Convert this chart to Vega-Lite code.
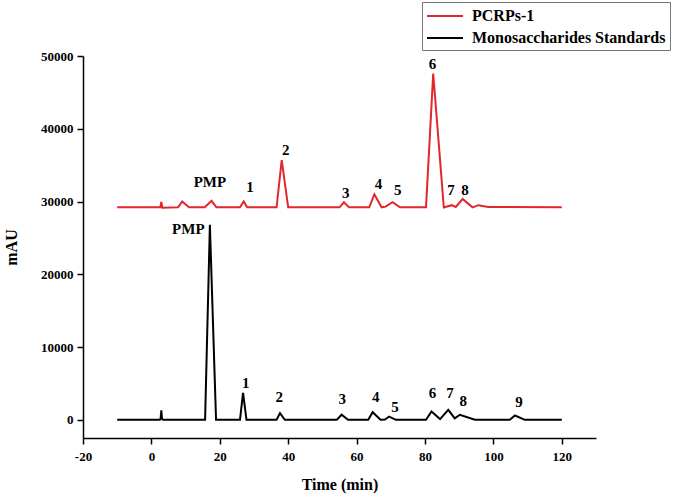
{
  "$schema": "https://vega.github.io/schema/vega-lite/v6.json",
  "autosize": "none",
  "width": 513,
  "height": 382,
  "padding": {"left": 83, "top": 56, "right": 89, "bottom": 61},
  "background": "white",
  "config": {
    "view": {"stroke": null},
    "font": "Liberation Serif",
    "axis": {
      "domainColor": "#000",
      "domainWidth": 1.5,
      "tickColor": "#000",
      "tickWidth": 1.5,
      "grid": false,
      "labelFont": "Liberation Serif",
      "labelFontWeight": "bold",
      "labelFontSize": 13,
      "labelColor": "#000",
      "titleFont": "Liberation Serif",
      "titleFontWeight": "bold",
      "titleFontSize": 16,
      "titleColor": "#000"
    }
  },
  "datasets": {
    "trace": [
      {"t": -10, "v": 29200, "s": "PCRPs-1"},
      {"t": 2.6, "v": 29200, "s": "PCRPs-1"},
      {"t": 2.9, "v": 29950, "s": "PCRPs-1"},
      {"t": 3.2, "v": 29150, "s": "PCRPs-1"},
      {"t": 7.8, "v": 29200, "s": "PCRPs-1"},
      {"t": 9.0, "v": 30000, "s": "PCRPs-1"},
      {"t": 11.0, "v": 29200, "s": "PCRPs-1"},
      {"t": 15.6, "v": 29200, "s": "PCRPs-1"},
      {"t": 17.6, "v": 30100, "s": "PCRPs-1"},
      {"t": 19.0, "v": 29200, "s": "PCRPs-1"},
      {"t": 25.9, "v": 29200, "s": "PCRPs-1"},
      {"t": 27.0, "v": 30000, "s": "PCRPs-1"},
      {"t": 28.0, "v": 29200, "s": "PCRPs-1"},
      {"t": 36.6, "v": 29200, "s": "PCRPs-1"},
      {"t": 38.1, "v": 35700, "s": "PCRPs-1"},
      {"t": 40.0, "v": 29200, "s": "PCRPs-1"},
      {"t": 55.0, "v": 29200, "s": "PCRPs-1"},
      {"t": 56.3, "v": 29900, "s": "PCRPs-1"},
      {"t": 57.8, "v": 29200, "s": "PCRPs-1"},
      {"t": 63.7, "v": 29200, "s": "PCRPs-1"},
      {"t": 65.2, "v": 31000, "s": "PCRPs-1"},
      {"t": 67.3, "v": 29200, "s": "PCRPs-1"},
      {"t": 68.5, "v": 29300, "s": "PCRPs-1"},
      {"t": 70.5, "v": 29900, "s": "PCRPs-1"},
      {"t": 72.7, "v": 29200, "s": "PCRPs-1"},
      {"t": 80.3, "v": 29200, "s": "PCRPs-1"},
      {"t": 82.4, "v": 47600, "s": "PCRPs-1"},
      {"t": 85.5, "v": 29200, "s": "PCRPs-1"},
      {"t": 87.8, "v": 29500, "s": "PCRPs-1"},
      {"t": 89.0, "v": 29250, "s": "PCRPs-1"},
      {"t": 91.0, "v": 30350, "s": "PCRPs-1"},
      {"t": 93.9, "v": 29200, "s": "PCRPs-1"},
      {"t": 95.6, "v": 29500, "s": "PCRPs-1"},
      {"t": 98.5, "v": 29250, "s": "PCRPs-1"},
      {"t": 120, "v": 29200, "s": "PCRPs-1"},
      {"t": -10, "v": 0, "s": "Monosaccharides Standards"},
      {"t": 2.5, "v": 0, "s": "Monosaccharides Standards"},
      {"t": 2.7, "v": 200, "s": "Monosaccharides Standards"},
      {"t": 2.9, "v": 1300, "s": "Monosaccharides Standards"},
      {"t": 3.1, "v": 150, "s": "Monosaccharides Standards"},
      {"t": 3.4, "v": 0, "s": "Monosaccharides Standards"},
      {"t": 15.7, "v": 0, "s": "Monosaccharides Standards"},
      {"t": 17.1, "v": 26800, "s": "Monosaccharides Standards"},
      {"t": 18.9, "v": 0, "s": "Monosaccharides Standards"},
      {"t": 25.9, "v": 0, "s": "Monosaccharides Standards"},
      {"t": 26.8, "v": 3700, "s": "Monosaccharides Standards"},
      {"t": 27.8, "v": 0, "s": "Monosaccharides Standards"},
      {"t": 36.6, "v": 0, "s": "Monosaccharides Standards"},
      {"t": 37.6, "v": 920, "s": "Monosaccharides Standards"},
      {"t": 39.0, "v": 0, "s": "Monosaccharides Standards"},
      {"t": 54.2, "v": 0, "s": "Monosaccharides Standards"},
      {"t": 55.6, "v": 700, "s": "Monosaccharides Standards"},
      {"t": 57.5, "v": 0, "s": "Monosaccharides Standards"},
      {"t": 63.4, "v": 0, "s": "Monosaccharides Standards"},
      {"t": 64.7, "v": 1050, "s": "Monosaccharides Standards"},
      {"t": 67.0, "v": 0, "s": "Monosaccharides Standards"},
      {"t": 68.3, "v": 50, "s": "Monosaccharides Standards"},
      {"t": 69.5, "v": 450, "s": "Monosaccharides Standards"},
      {"t": 71.5, "v": 0, "s": "Monosaccharides Standards"},
      {"t": 80.3, "v": 0, "s": "Monosaccharides Standards"},
      {"t": 81.9, "v": 1140, "s": "Monosaccharides Standards"},
      {"t": 84.4, "v": 100, "s": "Monosaccharides Standards"},
      {"t": 86.8, "v": 1370, "s": "Monosaccharides Standards"},
      {"t": 88.7, "v": 190, "s": "Monosaccharides Standards"},
      {"t": 90.2, "v": 690, "s": "Monosaccharides Standards"},
      {"t": 94.6, "v": 0, "s": "Monosaccharides Standards"},
      {"t": 104.8, "v": 0, "s": "Monosaccharides Standards"},
      {"t": 106.3, "v": 590, "s": "Monosaccharides Standards"},
      {"t": 109.2, "v": 0, "s": "Monosaccharides Standards"},
      {"t": 120, "v": 0, "s": "Monosaccharides Standards"}
    ],
    "labels": [
      {"t": 17.1, "v": 32700, "label": "PMP"},
      {"t": 28.8, "v": 31950, "label": "1"},
      {"t": 39.3, "v": 37050, "label": "2"},
      {"t": 56.8, "v": 31110, "label": "3"},
      {"t": 66.4, "v": 32390, "label": "4"},
      {"t": 72.0, "v": 31570, "label": "5"},
      {"t": 82.2, "v": 48860, "label": "6"},
      {"t": 87.6, "v": 31570, "label": "7"},
      {"t": 91.7, "v": 31570, "label": "8"},
      {"t": 10.8, "v": 26170, "label": "PMP"},
      {"t": 27.6, "v": 5120, "label": "1"},
      {"t": 37.4, "v": 3115, "label": "2"},
      {"t": 55.8, "v": 2840, "label": "3"},
      {"t": 65.6, "v": 3200, "label": "4"},
      {"t": 71.2, "v": 1740, "label": "5"},
      {"t": 82.2, "v": 3660, "label": "6"},
      {"t": 87.3, "v": 3750, "label": "7"},
      {"t": 91.2, "v": 2650, "label": "8"},
      {"t": 107.5, "v": 2380, "label": "9"}
    ]
  },
  "layer": [
    {
      "data": {"name": "trace"},
      "mark": {"type": "line", "strokeWidth": 2, "interpolate": "linear"},
      "encoding": {
        "x": {
          "field": "t", "type": "quantitative",
          "scale": {"domain": [-20, 130], "nice": false, "zero": false},
          "axis": {
            "title": "Time (min)",
            "values": [-20, -10, 0, 10, 20, 30, 40, 50, 60, 70, 80, 90, 100, 110, 120, 130],
            "labelExpr": "datum.value % 20 === 0 && datum.value <= 120 ? datum.value : ''",
            "tickSize": {"condition": {"test": "datum.value % 20 === 0", "value": 6}, "value": 3.5},
            "labelPadding": 6,
            "titlePadding": 13,
            "labelFlush": false,
            "labelOverlap": false
          }
        },
        "y": {
          "field": "v", "type": "quantitative",
          "scale": {"domain": [-2500, 50000], "nice": false, "zero": false},
          "axis": {
            "title": "mAU",
            "values": [0, 5000, 10000, 15000, 20000, 25000, 30000, 35000, 40000, 45000, 50000],
            "labelExpr": "datum.value % 10000 === 0 ? datum.value : ''",
            "tickSize": {"condition": {"test": "datum.value % 10000 === 0", "value": 6}, "value": 3.5},
            "labelPadding": 4,
            "titlePadding": 21,
            "labelFlush": false,
            "labelOverlap": false
          }
        },
        "color": {
          "field": "s", "type": "nominal",
          "scale": {"domain": ["PCRPs-1", "Monosaccharides Standards"], "range": ["#e3262b", "#000000"]},
          "legend": {
            "title": null,
            "orient": "none",
            "legendX": 339,
            "legendY": -54,
            "symbolType": "M-1,0H3",
            "symbolStrokeWidth": 2,
            "symbolSize": 324,
            "labelFont": "Liberation Serif",
            "labelFontWeight": "bold",
            "labelFontSize": 16,
            "labelColor": "#000",
            "labelOffset": 26,
            "labelLimit": 400,
            "rowPadding": 4,
            "padding": 4,
            "strokeColor": "#777",
            "fillColor": "white"
          }
        }
      }
    },
    {
      "data": {"name": "labels"},
      "mark": {"type": "text", "font": "Liberation Serif", "fontWeight": "bold", "fontSize": 15, "align": "center", "baseline": "middle", "color": "#000"},
      "encoding": {
        "x": {"field": "t", "type": "quantitative"},
        "y": {"field": "v", "type": "quantitative"},
        "text": {"field": "label"}
      }
    }
  ]
}
